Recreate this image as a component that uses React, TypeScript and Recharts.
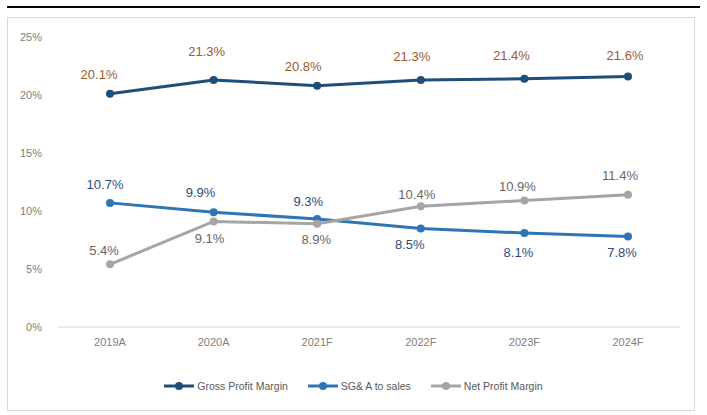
import React from 'react';
import { LineChart, Line, XAxis, YAxis, Legend, LabelList } from 'recharts';

const categories = ['2019A', '2020A', '2021F', '2022F', '2023F', '2024F'];
const grossMargin = [20.1, 21.3, 20.8, 21.3, 21.4, 21.6];
const sgaToSales = [10.7, 9.9, 9.3, 8.5, 8.1, 7.8];
const netMargin = [5.4, 9.1, 8.9, 10.4, 10.9, 11.4];
const yTicks = [0, 5, 10, 15, 20, 25];

// label offsets (pixels) relative to the point
const grossLabelDx = [-11, -7, -14, -9, -13, -3];
const grossLabelDy = [-19, -28, -19, -23, -23, -21];
const sgaLabelDx = [-5, -13, -9, -11, -6, -6];
const sgaLabelDy = [-18, -20, -18, 16, 19, 16];
const netLabelDx = [-6, -4, -1, -4, -7, -8];
const netLabelDy = [-14, 17, 16, -12, -14, -19];

const data = categories.map((c, i) => ({
  name: c,
  gross: grossMargin[i],
  sga: sgaToSales[i],
  net: netMargin[i],
}));

const FONT = '"Liberation Sans", Arial, sans-serif';

const series = [
  { key: 'gross', name: 'Gross Profit Margin', color: '#1F4E79', labelColor: '#9C5A2B', dx: grossLabelDx, dy: grossLabelDy },
  { key: 'sga', name: 'SG& A to sales', color: '#2E75B6', labelColor: '#2F4B7C', dx: sgaLabelDx, dy: sgaLabelDy },
  { key: 'net', name: 'Net Profit Margin', color: '#A5A5A5', labelColor: '#666666', dx: netLabelDx, dy: netLabelDy },
];

const makeLabel = (color: string, dx: number[], dy: number[]) => (props: any) => {
  const { x, y, index, value } = props;
  return (
    <text
      x={x + dx[index]}
      y={y + dy[index]}
      textAnchor="middle"
      dominantBaseline="central"
      fill={color}
      fontSize={13}
      fontFamily={FONT}
    >
      {Number(value).toFixed(1)}%
    </text>
  );
};

const LegendContent = () => (
  <div
    style={{
      display: 'flex',
      justifyContent: 'center',
      alignItems: 'center',
      height: 20,
      width: 707,
      fontFamily: FONT,
      fontSize: 10.5,
      color: '#595959',
    }}
  >
    {series.map((s, i) => (
      <div key={s.key} style={{ display: 'flex', alignItems: 'center', marginLeft: i === 0 ? 0 : 20 }}>
        <svg width={30} height={10} style={{ marginRight: 3 }}>
          <line x1={0} y1={5} x2={30} y2={5} stroke={s.color} strokeWidth={3} />
          <circle cx={15} cy={5} r={4} fill={s.color} />
        </svg>
        <span>{s.name}</span>
      </div>
    ))}
  </div>
);

export default function App() {
  return (
    <div style={{ position: 'absolute', left: 0, top: 0, width: 707, height: 415, background: '#fff' }}>
      <div style={{ position: 'absolute', left: 7, top: 6, width: 693, height: 2, background: '#000' }} />
      <div
        style={{
          position: 'absolute',
          left: 7,
          top: 17,
          width: 688,
          height: 394,
          border: '1px solid #D9D9D9',
          boxSizing: 'border-box',
        }}
      />
      <div style={{ position: 'absolute', left: 0, top: 0 }}>
        <LineChart width={707} height={415} data={data} margin={{ top: 37, right: 27, left: 0, bottom: 19 }}>
          <XAxis
            dataKey="name"
            height={49}
            padding={{ left: 52, right: 52 }}
            tickLine={false}
            tickSize={0}
            tickMargin={11}
            axisLine={{ stroke: '#D9D9D9', strokeWidth: 1 }}
            tick={{ fill: '#808080', fontSize: 11, fontFamily: FONT }}
          />
          <YAxis
            width={58}
            domain={[0, 25]}
            ticks={yTicks}
            axisLine={false}
            tickLine={false}
            tickSize={0}
            tickMargin={16}
            tickFormatter={(v: number) => `${v}%`}
            tick={{ fill: '#808080', fontSize: 11, fontFamily: FONT }}
          />
          <Legend
            verticalAlign="bottom"
            content={<LegendContent />}
            wrapperStyle={{ left: 0, width: 707, height: 20 }}
          />
          {series.map((s) => (
            <Line
              key={s.key}
              dataKey={s.key}
              name={s.name}
              stroke={s.color}
              strokeWidth={3}
              dot={{ r: 4, fill: s.color, stroke: s.color, strokeWidth: 0 }}
              activeDot={false}
              isAnimationActive={false}
            >
              <LabelList dataKey={s.key} content={makeLabel(s.labelColor, s.dx, s.dy)} />
            </Line>
          ))}
        </LineChart>
      </div>
    </div>
  );
}
